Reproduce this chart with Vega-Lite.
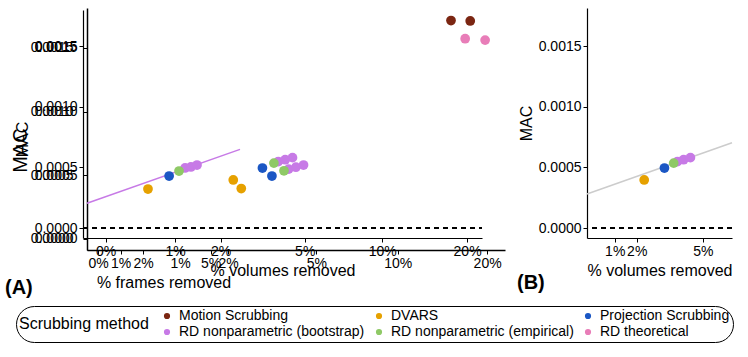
{
  "$schema": "https://vega.github.io/schema/vega-lite/v6.json",
  "padding": {"left": 5, "top": 8, "right": 0, "bottom": 0},
  "background": "white",
  "datasets": {
    "frames": [
      {"method": "DVARS", "pct": 2.22, "mac": 0.000392},
      {"method": "Projection Scrubbing", "pct": 3.16, "mac": 0.000494},
      {"method": "RD nonparametric (bootstrap)", "pct": 3.87, "mac": 0.000557},
      {"method": "RD nonparametric (bootstrap)", "pct": 4.13, "mac": 0.000565},
      {"method": "RD nonparametric (bootstrap)", "pct": 4.4, "mac": 0.00058},
      {"method": "RD nonparametric (empirical)", "pct": 3.6, "mac": 0.000533}
    ],
    "vol": [
      {"method": "Motion Scrubbing", "pct": 17.6, "mac": 0.00171},
      {"method": "DVARS", "pct": 2.34, "mac": 0.000396},
      {"method": "Projection Scrubbing", "pct": 3.26, "mac": 0.000494},
      {"method": "RD nonparametric (bootstrap)", "pct": 3.85, "mac": 0.000548},
      {"method": "RD nonparametric (bootstrap)", "pct": 4.13, "mac": 0.000563},
      {"method": "RD nonparametric (bootstrap)", "pct": 4.44, "mac": 0.00058},
      {"method": "RD nonparametric (empirical)", "pct": 3.68, "mac": 0.000535},
      {"method": "RD theoretical", "pct": 19.7, "mac": 0.00156}
    ],
    "lineA": [
      {"method": "RD nonparametric (bootstrap)", "pct": -0.49, "mac": 0.00028},
      {"method": "RD nonparametric (bootstrap)", "pct": 6.31, "mac": 0.000703}
    ],
    "lineB": [
      {"pct": -0.26, "mac": 0.00028},
      {"pct": 6.33, "mac": 0.000703}
    ]
  },
  "config": {
    "font": "Liberation Sans",
    "view": {"stroke": null},
    "axis": {
      "grid": false,
      "domainColor": "black",
      "domainWidth": 1.2,
      "tickColor": "black",
      "tickSize": 4,
      "labelColor": "black",
      "labelFontSize": 14,
      "titleFontSize": 16,
      "titleFontWeight": "normal",
      "titleColor": "black",
      "labelPadding": 2
    },
    "title": {"fontSize": 20, "fontWeight": "bold", "color": "black"}
  },
  "hconcat": [
    {
      "width": 418,
      "height": 242,
      "title": {"text": "(A)", "orient": "bottom", "anchor": "start", "frame": "group", "dx": -82, "dy": -16},
      "resolve": {"scale": {"x": "independent", "y": "independent"}},
      "layer": [
        {
          "data": {"name": "vol"},
          "encoding": {
            "x": {"field": "pct", "type": "quantitative",
              "scale": {"type": "symlog", "constant": 1.5, "domain": [-0.227, 22.87], "nice": false, "zero": false},
              "axis": {"orient": "bottom", "values": [1, 2, 5, 10, 20], "labelExpr": "datum.value + '%'", "title": null, "domainWidth": 1.5}},
            "y": {"field": "mac", "type": "quantitative",
              "scale": {"domain": [-0.0000863, 0.0018118], "nice": false, "zero": false},
              "axis": {"orient": "left", "values": [0, 0.0005, 0.001, 0.0015], "format": ".4f", "title": "MAC", "titleFontSize": 20, "titleY": 142, "labelPadding": 6, "domainWidth": 1.5}}
          },
          "layer": [
            {"mark": {"type": "rule", "strokeDash": [5, 4], "color": "black", "strokeWidth": 1.2}, "encoding": {"y": {"datum": 0}}},
            {"mark": {"type": "circle", "size": 95, "opacity": 1},
              "encoding": {"color": {"field": "method", "type": "nominal",
                "scale": {"domain": ["Motion Scrubbing", "DVARS", "Projection Scrubbing", "RD nonparametric (bootstrap)", "RD nonparametric (empirical)", "RD theoretical"],
                  "range": ["#7b2612", "#e6a100", "#1b57c4", "#c77ae6", "#8fc966", "#e87db8"]},
                "legend": {"orient": "none", "legendX": -71, "legendY": 298, "direction": "horizontal", "columns": 3,
                  "title": "Scrubbing method", "titleOrient": "left", "titleAnchor": "middle", "titleFontSize": 16, "titleFontWeight": "normal", "titleColor": "black",
                  "labelFontSize": 14, "labelColor": "black", "labelLimit": 400, "symbolSize": 22, "symbolType": "circle",
                  "fillColor": "white", "strokeColor": "black", "cornerRadius": 18, "padding": 3, "rowPadding": 2, "columnPadding": 7, "titlePadding": 11, "labelOffset": 5}}}}
          ]
        },
        {
          "data": {"name": "vol"},
          "encoding": {
            "x": {"field": "pct", "type": "quantitative",
              "scale": {"type": "symlog", "constant": 1.5, "domain": [-0.273, 22.5], "range": [-4, 395], "nice": false, "zero": false},
              "axis": {"orient": "bottom", "offset": -12, "values": [0, 1, 2, 5, 10, 20], "labelExpr": "datum.value + '%'", "title": "% volumes removed"}},
            "y": {"field": "mac", "type": "quantitative",
              "scale": {"domain": [-0.0000824, 0.0017967], "range": [230, 2], "nice": false, "zero": false},
              "axis": {"orient": "left", "offset": 4, "values": [0, 0.0005, 0.001, 0.0015], "format": ".4f", "title": "MAC", "titleY": 131}}
          },
          "layer": [
            {"mark": {"type": "rule", "strokeDash": [5, 4], "color": "black", "strokeWidth": 1.2}, "encoding": {"y": {"datum": 0}, "x": {"datum": -0.273}, "x2": {"datum": 22.5}}},
            {"mark": {"type": "circle", "size": 95, "opacity": 1},
              "encoding": {"color": {"field": "method", "type": "nominal"}}}
          ]
        },
        {
          "encoding": {
            "x": {"field": "pct", "type": "quantitative",
              "scale": {"domain": [-0.49, 6.31], "range": [0, 153], "nice": false, "zero": false},
              "axis": {"orient": "bottom", "values": [0, 1, 2, 5], "labelExpr": "datum.value + '%'", "title": "% frames removed", "titlePadding": 4}},
            "y": {"field": "mac", "type": "quantitative",
              "scale": {"domain": [-0.0000863, 0.0018118], "nice": false, "zero": false},
              "axis": {"orient": "left", "offset": 12, "domain": false, "ticks": false, "values": [0, 0.0005, 0.001, 0.0015], "format": ".4f", "title": null}}
          },
          "layer": [
            {"data": {"name": "lineA"}, "mark": {"type": "line", "strokeWidth": 1.5}, "encoding": {"color": {"field": "method", "type": "nominal"}}},
            {"data": {"name": "frames"}, "mark": {"type": "circle", "size": 95, "opacity": 1}, "encoding": {"color": {"field": "method", "type": "nominal"}}}
          ]
        }
      ]
    },
    {
      "width": 145,
      "height": 230,
      "title": {"text": "(B)", "orient": "bottom", "anchor": "start", "frame": "group", "dx": -70, "dy": -9},
      "encoding": {
        "x": {"field": "pct", "type": "quantitative",
          "scale": {"domain": [-0.26, 6.33], "nice": false, "zero": false},
          "axis": {"values": [1, 2, 5], "labelExpr": "datum.value + '%'", "title": "% volumes removed"}},
        "y": {"field": "mac", "type": "quantitative",
          "scale": {"domain": [-0.0000824, 0.0018132], "nice": false, "zero": false},
          "axis": {"values": [0, 0.0005, 0.001, 0.0015], "format": ".4f", "title": "MAC"}}
      },
      "layer": [
        {"data": {"name": "lineB"}, "mark": {"type": "line", "color": "#cccccc", "strokeWidth": 1.5}},
        {"data": {"name": "vol"}, "mark": {"type": "rule", "strokeDash": [5, 4], "color": "black", "strokeWidth": 1.2}, "encoding": {"y": {"datum": 0}, "x": null}},
        {"data": {"name": "vol"}, "transform": [{"filter": "datum.pct < 7"}],
          "mark": {"type": "circle", "size": 95, "opacity": 1},
          "encoding": {"color": {"field": "method", "type": "nominal"}}}
      ]
    }
  ],
  "spacing": 12
}
